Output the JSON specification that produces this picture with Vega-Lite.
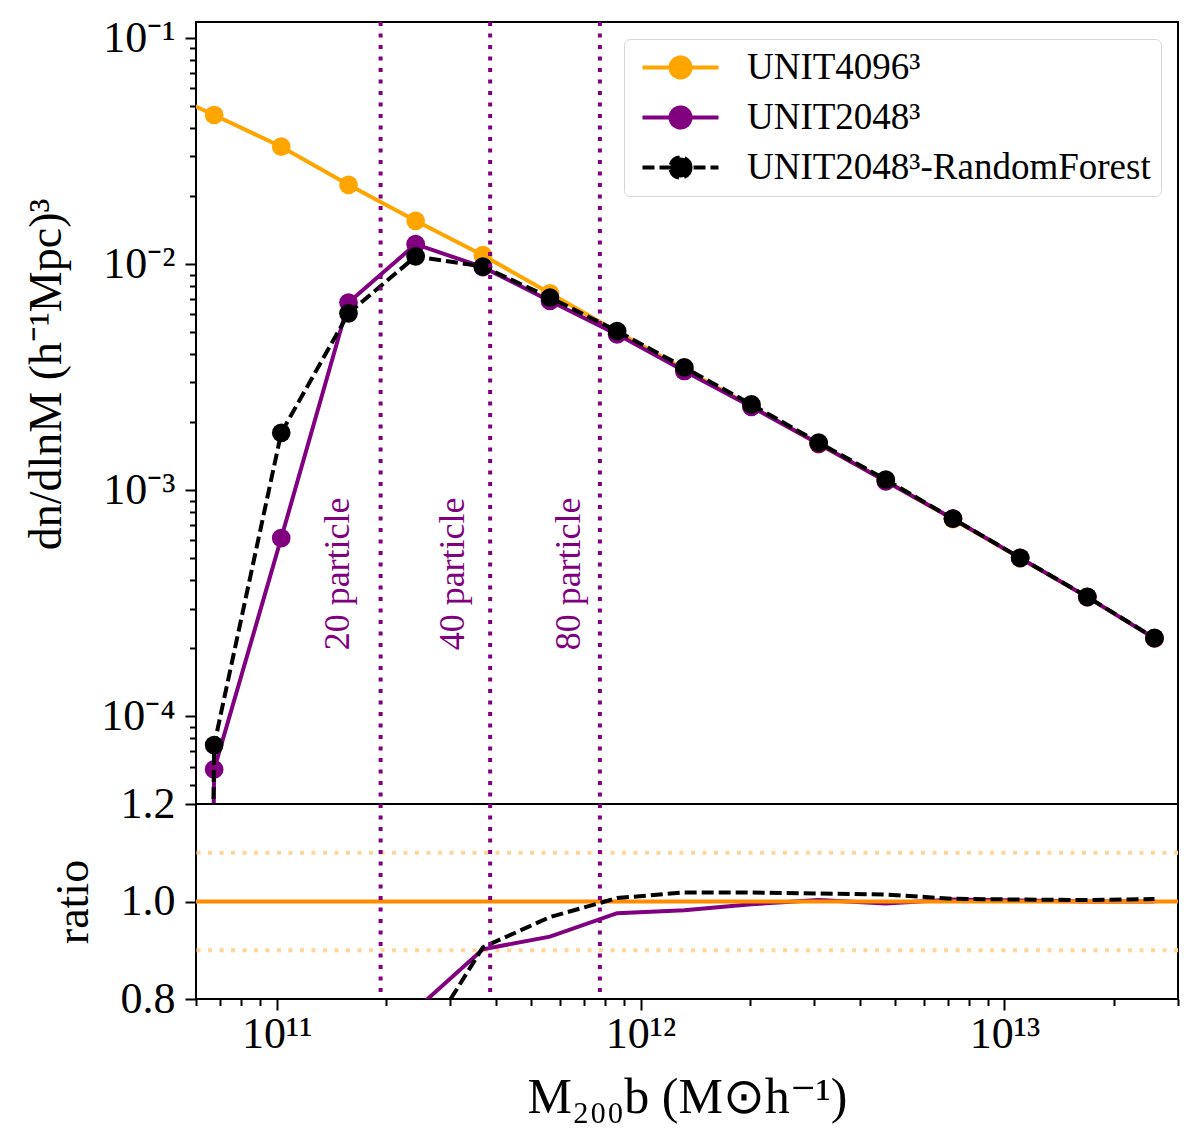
{
  "$schema": "https://vega.github.io/schema/vega-lite/v6.json",
  "background": "white",
  "padding": {"left": 22, "top": 15, "right": 20, "bottom": 10},
  "config": {
    "font": "Liberation Serif",
    "view": {"stroke": "black", "strokeWidth": 2},
    "axis": {
      "labelFont": "Liberation Serif", "titleFont": "Liberation Serif",
      "labelFontSize": 44, "titleFontSize": 46, "titleFontWeight": "normal",
      "labelColor": "black", "titleColor": "black",
      "tickColor": "black", "tickWidth": 2, "domain": false, "grid": false,
      "labelPadding": 10, "titlePadding": 12
    },
    "legend": {"labelFont": "Liberation Serif"}
  },
  "spacing": 0,
  "bounds": "flush",
  "resolve": {"scale": {"color": "independent"}},
  "datasets": {
    "hmf": [
      {"series": "UNIT4096³", "M": 4.40e10, "dndlnM": 0.0627},
      {"series": "UNIT4096³", "M": 6.73e10, "dndlnM": 0.0457},
      {"series": "UNIT4096³", "M": 1.029e11, "dndlnM": 0.0331},
      {"series": "UNIT4096³", "M": 1.575e11, "dndlnM": 0.02245},
      {"series": "UNIT4096³", "M": 2.409e11, "dndlnM": 0.01555},
      {"series": "UNIT4096³", "M": 3.686e11, "dndlnM": 0.01096},
      {"series": "UNIT4096³", "M": 5.636e11, "dndlnM": 0.00744},
      {"series": "UNIT4096³", "M": 8.62e11, "dndlnM": 0.005029},
      {"series": "UNIT4096³", "M": 1.319e12, "dndlnM": 0.003432},
      {"series": "UNIT4096³", "M": 2.017e12, "dndlnM": 0.002353},
      {"series": "UNIT4096³", "M": 3.086e12, "dndlnM": 0.001601},
      {"series": "UNIT4096³", "M": 4.721e12, "dndlnM": 0.001099},
      {"series": "UNIT4096³", "M": 7.222e12, "dndlnM": 0.000745},
      {"series": "UNIT4096³", "M": 1.105e13, "dndlnM": 0.000501},
      {"series": "UNIT4096³", "M": 1.690e13, "dndlnM": 0.000337},
      {"series": "UNIT4096³", "M": 2.585e13, "dndlnM": 0.0002214},
      {"series": "UNIT2048³", "M": 4.40e10, "dndlnM": 1e-30},
      {"series": "UNIT2048³", "M": 6.73e10, "dndlnM": 0.0000583},
      {"series": "UNIT2048³", "M": 1.029e11, "dndlnM": 0.000615},
      {"series": "UNIT2048³", "M": 1.575e11, "dndlnM": 0.006766},
      {"series": "UNIT2048³", "M": 2.409e11, "dndlnM": 0.01226},
      {"series": "UNIT2048³", "M": 3.686e11, "dndlnM": 0.0097},
      {"series": "UNIT2048³", "M": 5.636e11, "dndlnM": 0.006878},
      {"series": "UNIT2048³", "M": 8.62e11, "dndlnM": 0.004896},
      {"series": "UNIT2048³", "M": 1.319e12, "dndlnM": 0.00337},
      {"series": "UNIT2048³", "M": 2.017e12, "dndlnM": 0.00234},
      {"series": "UNIT2048³", "M": 3.086e12, "dndlnM": 0.001606},
      {"series": "UNIT2048³", "M": 4.721e12, "dndlnM": 0.001096},
      {"series": "UNIT2048³", "M": 7.222e12, "dndlnM": 0.000749},
      {"series": "UNIT2048³", "M": 1.105e13, "dndlnM": 0.000502},
      {"series": "UNIT2048³", "M": 1.690e13, "dndlnM": 0.000337},
      {"series": "UNIT2048³", "M": 2.585e13, "dndlnM": 0.0002214},
      {"series": "UNIT2048³-RandomForest", "M": 4.40e10, "dndlnM": 1e-30},
      {"series": "UNIT2048³-RandomForest", "M": 6.73e10, "dndlnM": 0.0000747},
      {"series": "UNIT2048³-RandomForest", "M": 1.029e11, "dndlnM": 0.001796},
      {"series": "UNIT2048³-RandomForest", "M": 1.575e11, "dndlnM": 0.006066},
      {"series": "UNIT2048³-RandomForest", "M": 2.409e11, "dndlnM": 0.01082},
      {"series": "UNIT2048³-RandomForest", "M": 3.686e11, "dndlnM": 0.009767},
      {"series": "UNIT2048³-RandomForest", "M": 5.636e11, "dndlnM": 0.007118},
      {"series": "UNIT2048³-RandomForest", "M": 8.62e11, "dndlnM": 0.005063},
      {"series": "UNIT2048³-RandomForest", "M": 1.319e12, "dndlnM": 0.003496},
      {"series": "UNIT2048³-RandomForest", "M": 2.017e12, "dndlnM": 0.002397},
      {"series": "UNIT2048³-RandomForest", "M": 3.086e12, "dndlnM": 0.001627},
      {"series": "UNIT2048³-RandomForest", "M": 4.721e12, "dndlnM": 0.001115},
      {"series": "UNIT2048³-RandomForest", "M": 7.222e12, "dndlnM": 0.000749},
      {"series": "UNIT2048³-RandomForest", "M": 1.105e13, "dndlnM": 0.000503},
      {"series": "UNIT2048³-RandomForest", "M": 1.690e13, "dndlnM": 0.000338},
      {"series": "UNIT2048³-RandomForest", "M": 2.585e13, "dndlnM": 0.0002225}
    ],
    "ratio": [
      {"series": "UNIT2048³", "M": 6.73e10, "ratio": 0.0013},
      {"series": "UNIT2048³", "M": 1.029e11, "ratio": 0.0186},
      {"series": "UNIT2048³", "M": 1.575e11, "ratio": 0.301},
      {"series": "UNIT2048³", "M": 2.409e11, "ratio": 0.778},
      {"series": "UNIT2048³", "M": 3.686e11, "ratio": 0.902},
      {"series": "UNIT2048³", "M": 5.636e11, "ratio": 0.928},
      {"series": "UNIT2048³", "M": 8.62e11, "ratio": 0.976},
      {"series": "UNIT2048³", "M": 1.319e12, "ratio": 0.982},
      {"series": "UNIT2048³", "M": 2.017e12, "ratio": 0.9945},
      {"series": "UNIT2048³", "M": 3.086e12, "ratio": 1.003},
      {"series": "UNIT2048³", "M": 4.721e12, "ratio": 0.996},
      {"series": "UNIT2048³", "M": 7.222e12, "ratio": 1.004},
      {"series": "UNIT2048³", "M": 1.105e13, "ratio": 1.002},
      {"series": "UNIT2048³", "M": 1.690e13, "ratio": 1.0},
      {"series": "UNIT2048³", "M": 2.585e13, "ratio": 1.0},
      {"series": "UNIT2048³-RandomForest", "M": 6.73e10, "ratio": 0.0016},
      {"series": "UNIT2048³-RandomForest", "M": 1.029e11, "ratio": 0.0543},
      {"series": "UNIT2048³-RandomForest", "M": 1.575e11, "ratio": 0.270},
      {"series": "UNIT2048³-RandomForest", "M": 2.409e11, "ratio": 0.685},
      {"series": "UNIT2048³-RandomForest", "M": 3.686e11, "ratio": 0.906},
      {"series": "UNIT2048³-RandomForest", "M": 5.636e11, "ratio": 0.968},
      {"series": "UNIT2048³-RandomForest", "M": 8.62e11, "ratio": 1.007},
      {"series": "UNIT2048³-RandomForest", "M": 1.319e12, "ratio": 1.0185},
      {"series": "UNIT2048³-RandomForest", "M": 2.017e12, "ratio": 1.0185},
      {"series": "UNIT2048³-RandomForest", "M": 3.086e12, "ratio": 1.0164},
      {"series": "UNIT2048³-RandomForest", "M": 4.721e12, "ratio": 1.0144},
      {"series": "UNIT2048³-RandomForest", "M": 7.222e12, "ratio": 1.0055},
      {"series": "UNIT2048³-RandomForest", "M": 1.105e13, "ratio": 1.004},
      {"series": "UNIT2048³-RandomForest", "M": 1.690e13, "ratio": 1.003},
      {"series": "UNIT2048³-RandomForest", "M": 2.585e13, "ratio": 1.005}
    ],
    "vlines": [
      {"M": 1.93e11, "particles": 20},
      {"M": 3.86e11, "particles": 40},
      {"M": 7.73e11, "particles": 80}
    ],
    "labels": [
      {"M": 1.472e11, "dndlnM": 0.000427, "label": "20 particle"},
      {"M": 3.047e11, "dndlnM": 0.000427, "label": "40 particle"},
      {"M": 6.35e11, "dndlnM": 0.000427, "label": "80 particle"}
    ],
    "hlines": [
      {"ratio": 1.1, "kind": "band"},
      {"ratio": 0.9, "kind": "band"},
      {"ratio": 1.0, "kind": "reference"}
    ]
  },
  "vconcat": [
    {
      "width": 982,
      "height": 782,
      "layer": [
        {
          "data": {"name": "hmf"},
          "transform": [{"filter": "datum.series === 'UNIT4096³'"}],
          "mark": {"type": "line", "strokeWidth": 4, "clip": true},
          "encoding": {
            "x": {"field": "M", "type": "quantitative", "scale": {"type": "log", "domain": [6e10, 3e13], "nice": false}, "axis": null},
            "y": {"field": "dndlnM", "type": "quantitative",
                  "scale": {"type": "log", "domain": [0.000041, 0.1178], "nice": false},
                  "axis": {
                    "title": "dn/dlnM (h⁻¹Mpc)³",
                    "titleY": 352,
                    "titlePadding": 30,
                    "values": [0.00005, 0.00006, 0.00007, 0.00008, 0.00009, 0.0001, 0.0002, 0.0003, 0.0004, 0.0005, 0.0006, 0.0007, 0.0008, 0.0009, 0.001, 0.002, 0.003, 0.004, 0.005, 0.006, 0.007, 0.008, 0.009, 0.01, 0.02, 0.03, 0.04, 0.05, 0.06, 0.07, 0.08, 0.09, 0.1],
                    "labelExpr": "datum.value === 0.1 ? '10⁻¹' : datum.value === 0.01 ? '10⁻²' : datum.value === 0.001 ? '10⁻³' : datum.value === 0.0001 ? '10⁻⁴' : ''",
                    "labelOverlap": false,
                    "tickSize": {"condition": {"test": "datum.value === 0.1 || datum.value === 0.01 || datum.value === 0.001 || datum.value === 0.0001", "value": 11}, "value": 6.5}
                  }},
            "color": {"field": "series", "type": "nominal",
                      "scale": {"domain": ["UNIT4096³", "UNIT2048³", "UNIT2048³-RandomForest"], "range": ["#ffa500", "#800080", "#000000"]},
                      "legend": {
                        "title": null, "orient": "top-right", "offset": 17,
                        "symbolType": "M-1,0H6.6M3.8,0A1,1,0,1,1,1.8,0A1,1,0,1,1,3.8,0Z",
                        "symbolSize": 400, "symbolStrokeWidth": 4,
                        "labelFontSize": 37, "labelColor": "black", "labelOffset": 76, "labelLimit": 0,
                        "rowPadding": 12, "padding": 10,
                        "strokeColor": "#d6d6d6", "fillColor": "white", "cornerRadius": 6,
                        "encode": {
                          "symbols": {
                            "update": {
                              "fill": {"signal": "datum.value === 'UNIT4096³' ? '#ffa500' : datum.value === 'UNIT2048³' ? '#800080' : '#000000'"},
                              "stroke": {"signal": "datum.value === 'UNIT4096³' ? '#ffa500' : datum.value === 'UNIT2048³' ? '#800080' : '#000000'"},
                              "strokeDash": {"signal": "datum.value === 'UNIT2048³-RandomForest' ? [12, 5] : [1, 0]"},
                              "opacity": {"value": 1}
                            }
                          }
                        }
                      }}
          }
        },
        {
          "data": {"name": "hmf"},
          "transform": [{"filter": "datum.series === 'UNIT4096³'"}],
          "mark": {"type": "point", "filled": true, "size": 350, "opacity": 1, "clip": true},
          "encoding": {
            "x": {"field": "M", "type": "quantitative"},
            "y": {"field": "dndlnM", "type": "quantitative"},
            "color": {"field": "series", "type": "nominal"}
          }
        },
        {
          "data": {"name": "hmf"},
          "transform": [{"filter": "datum.series === 'UNIT2048³'"}],
          "mark": {"type": "line", "strokeWidth": 4, "clip": true},
          "encoding": {
            "x": {"field": "M", "type": "quantitative"},
            "y": {"field": "dndlnM", "type": "quantitative"},
            "color": {"field": "series", "type": "nominal"}
          }
        },
        {
          "data": {"name": "hmf"},
          "transform": [{"filter": "datum.series === 'UNIT2048³'"}],
          "mark": {"type": "point", "filled": true, "size": 350, "opacity": 1, "clip": true},
          "encoding": {
            "x": {"field": "M", "type": "quantitative"},
            "y": {"field": "dndlnM", "type": "quantitative"},
            "color": {"field": "series", "type": "nominal"}
          }
        },
        {
          "data": {"name": "hmf"},
          "transform": [{"filter": "datum.series === 'UNIT2048³-RandomForest'"}],
          "mark": {"type": "line", "strokeWidth": 4, "strokeDash": [12, 5], "clip": true},
          "encoding": {
            "x": {"field": "M", "type": "quantitative"},
            "y": {"field": "dndlnM", "type": "quantitative"},
            "color": {"field": "series", "type": "nominal"}
          }
        },
        {
          "data": {"name": "hmf"},
          "transform": [{"filter": "datum.series === 'UNIT2048³-RandomForest'"}],
          "mark": {"type": "point", "filled": true, "size": 350, "opacity": 1, "clip": true},
          "encoding": {
            "x": {"field": "M", "type": "quantitative"},
            "y": {"field": "dndlnM", "type": "quantitative"},
            "color": {"field": "series", "type": "nominal"}
          }
        },
        {
          "data": {"name": "vlines"},
          "mark": {"type": "rule", "color": "#800080", "strokeWidth": 4, "strokeDash": [4, 7.5]},
          "encoding": {
            "x": {"field": "M", "type": "quantitative"}
          }
        },
        {
          "data": {"name": "labels"},
          "mark": {"type": "text", "angle": 270, "align": "center", "baseline": "middle", "font": "Liberation Serif", "fontSize": 36, "color": "#800080"},
          "encoding": {
            "x": {"field": "M", "type": "quantitative"},
            "y": {"field": "dndlnM", "type": "quantitative"},
            "text": {"field": "label"}
          }
        }
      ]
    },
    {
      "width": 982,
      "height": 195,
      "layer": [
        {
          "data": {"name": "hlines"},
          "transform": [{"filter": "datum.kind === 'band'"}],
          "mark": {"type": "rule", "color": "#ffd59b", "strokeWidth": 4, "strokeDash": [4, 7.5]},
          "encoding": {
            "y": {"field": "ratio", "type": "quantitative",
                  "scale": {"domain": [0.8, 1.2], "nice": false, "zero": false},
                  "axis": {"title": "ratio", "titlePadding": 23, "values": [0.8, 1.0, 1.2], "format": ".1f", "tickSize": 11}}
          }
        },
        {
          "data": {"name": "ratio"},
          "transform": [{"filter": "datum.series === 'UNIT2048³'"}],
          "mark": {"type": "line", "color": "#800080", "strokeWidth": 4, "clip": true},
          "encoding": {
            "x": {"field": "M", "type": "quantitative",
                  "scale": {"type": "log", "domain": [6e10, 3e13], "nice": false},
                  "axis": {
                    "title": "M₂₀₀b (M⊙h⁻¹)",
                    "titleFontSize": 50,
                    "values": [60000000000, 70000000000, 80000000000, 90000000000, 100000000000, 200000000000, 300000000000, 400000000000, 500000000000, 600000000000, 700000000000, 800000000000, 900000000000, 1000000000000, 2000000000000, 3000000000000, 4000000000000, 5000000000000, 6000000000000, 7000000000000, 8000000000000, 9000000000000, 10000000000000, 20000000000000, 30000000000000],
                    "labelExpr": "datum.value === 100000000000 ? '10¹¹' : datum.value === 1000000000000 ? '10¹²' : datum.value === 10000000000000 ? '10¹³' : ''",
                    "labelOverlap": false,
                    "labelFlush": false,
                    "labelPadding": 2,
                    "titlePadding": 16,
                    "tickSize": {"condition": {"test": "datum.value === 100000000000 || datum.value === 1000000000000 || datum.value === 10000000000000", "value": 11}, "value": 6.5}
                  }},
            "y": {"field": "ratio", "type": "quantitative"}
          }
        },
        {
          "data": {"name": "hlines"},
          "transform": [{"filter": "datum.kind === 'reference'"}],
          "mark": {"type": "rule", "color": "#ff8c00", "strokeWidth": 4},
          "encoding": {
            "y": {"field": "ratio", "type": "quantitative"}
          }
        },
        {
          "data": {"name": "ratio"},
          "transform": [{"filter": "datum.series === 'UNIT2048³-RandomForest'"}],
          "mark": {"type": "line", "color": "#000000", "strokeWidth": 4, "strokeDash": [12, 5], "clip": true},
          "encoding": {
            "x": {"field": "M", "type": "quantitative"},
            "y": {"field": "ratio", "type": "quantitative"}
          }
        },
        {
          "data": {"name": "vlines"},
          "mark": {"type": "rule", "color": "#800080", "strokeWidth": 4, "strokeDash": [4, 7.5]},
          "encoding": {
            "x": {"field": "M", "type": "quantitative"}
          }
        }
      ]
    }
  ]
}
